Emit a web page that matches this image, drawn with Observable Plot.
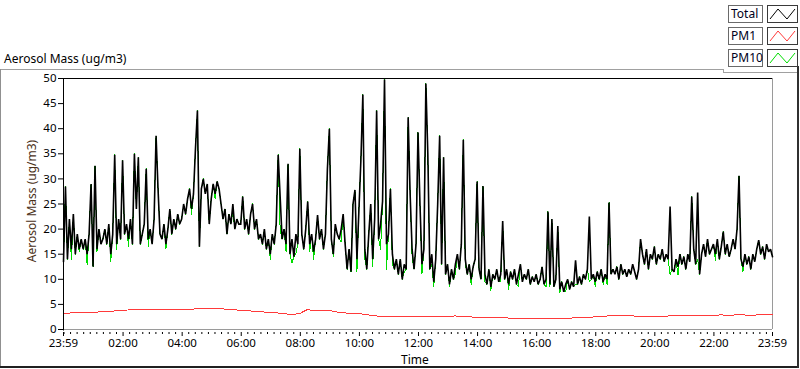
<!DOCTYPE html>
<html><head><meta charset="utf-8">
<script src="https://cdn.jsdelivr.net/npm/d3@7"></script>
<script src="https://cdn.jsdelivr.net/npm/@observablehq/plot@0.6"></script>
<style>
html,body{margin:0;padding:0;background:#fff;}
#wrap{position:relative;width:800px;height:369px;overflow:hidden;font-family:"Noto Sans","Open Sans",sans-serif;color:#000;}
#chart{position:absolute;left:0;top:0;}
.abs{position:absolute;white-space:nowrap;}
.line{position:absolute;}
.lbox{position:absolute;box-sizing:border-box;border:1px solid #6a6a6a;font-size:12px;line-height:16px;padding-left:2px;background:#fff;color:#000020;}
.sbox{position:absolute;box-sizing:border-box;border:1px solid #3a3a3a;background:#fff;}
</style></head><body>
<div id="wrap">
  <div id="chart"></div>
</div>
<script>
// ---------- data ----------
const dayStartUTC = Date.UTC(2000, 0, 1, 23, 59);   // 23:59 first day
const dayEndUTC = Date.UTC(2000, 0, 2, 23, 59);     // 23:59 next day
const totalStepMinutes = 4;
const pm1StepMinutes = 15;

const totalMass = [
13.5,28.5,14,22,16,23,15,19,16,18,
16,18,15,19,29,12.5,32.6,16,20,17,
18,20,17,21,15,19,34.8,17,22,18,
33.7,19,21,18,22,17,35,24,34.3,17,
19,21,32,18,20,17,22,38.6,28,19,
18,21,17,20,24,19,22,20,23,21,
22,25,23,26,28,24,27,36,43.6,16.5,
28,30,27,29,21,26,29,27,29.5,28,
25,22,24,19,23,21,25,20,22,21,
21,26.5,20,22,19,23,25,20,22,18,
19,17,20,16,18,15,19,17,21,34.8,
26.5,18,20,17,33,15,18,14.5,19,17,
36,19,16,20,25.5,17,19,15.5,18,22.8,
18,20,16,19,32,40,18,15,21,19,
18,20,23,17,12,16,11.5,25,27.8,14,
23.8,33.7,46.8,16,12,19,25,14,22,43.6,
18,21,25.5,49.8,17,19,28,15,12,14,
11,14,10,13,12,42.3,27,16,12,17,
39.3,25,13,16,49,34.8,12,15,9.5,14,
25,38.6,13,34.3,11,13,9,12,10,13,
15,12,17,37.8,14,11,13,10,12.5,14,
29.5,12,10,28.6,11,9,12,8.5,11,10,
12,9.5,11,21.6,10,12,9,11.5,10,12,
9,11,13,9.5,11,10,12,9,10.5,9.5,
11,9,10,12.5,9,10,23.5,9,22,8.5,
10,20.6,8,9.5,7.5,9,10,8,9.5,8.5,
13.8,9,10.5,9,11,10,12,22.5,10,11,
9.5,11.5,10,12,9.5,11,10,25.3,11,12,
11,12.5,10,13,11,12,10.5,12,11,13,
11.5,10,12,18,15,13,16,12,15,14,
16.5,13,15,14,16,13.5,15,14,24.5,12,
11.5,14,12.5,15,13,14.5,12,15,13.5,26.5,
16,13,27.3,11,15,17,14.5,18,15,16,
17,15,18,14,16.5,19.5,15,17,14.5,16,
18,16,20,30.6,14,12.5,15,13,14.5,12,
15,13.5,16,17.8,15,16.5,14,17,15.5,16,14.5
];

const pm10Mass = [
13.5,28.5,14,22,14,23,15,19,15.5,18,
16,18,13,19,29,12.5,32.6,15.5,20,17,
18,20,17,21,13.5,19,34.8,16,22,18,
33.7,19,21,16.5,22,17,35,24,34.3,17,
19,21,32,16.5,20,17,22,38.6,28,19,
18,21,16,20,24,19,22,20,23,21,
22,25,23,26,28,23,27,36,43.6,16.5,
28,30,27,29,21,26,29,26,29.5,28,
25,22,24,19,23,21,23.5,20,22,21,
21,26.5,20,22,19,23,25,20,22,18,
19,17,20,16,18,14,19,17,21,34.8,
20,18,20,15.5,33,15,13.3,14.5,15.2,17,
36,19,16,20,25.5,15.5,19,14,18,22.8,
18,20,16,19,32,40,18,14.5,21,19,
18,17.5,23,17,12,16,11.5,25,27.8,11.5,
23.8,33.7,46.8,14,12,19,25,12.5,22,43.6,
18,16,25.5,49.8,12,19,28,13,12,14,
11,14,10,11.5,12,42.3,27,14.5,12,17,
39.3,25,11,16,49,34.8,12,13,8.5,14,
25,38.6,13,34.3,11,13,8.5,12,10,11,
15,12,17,37.8,13,11,13,9,12.5,14,
29.5,12,10,28.6,9.5,9,12,7.8,11,10,
12,9.5,9.5,21.6,10,12,8,11.5,10,12,
9,8.5,13,9.5,11,10,12,9,10.5,9.5,
11,9,10,12.5,9,8.5,23.5,8.5,22,8.5,
10,20.6,7.3,9.5,7.5,7.5,10,8,9.5,8.5,
9,9,10.5,9,11,10,12,9.5,10,11,
8.5,11.5,10,12,9,11,9,25.3,11,12,
11,12.5,10,13,11,12,10.5,12,11,13,
11.5,10,12,18,15,13,16,12,15,14,
16.5,13,15,14,16,13.5,15,14,11,12,
11.5,14,10.8,15,13,14.5,12,15,13.5,26.5,
16,13,14,11,15,17,14.5,18,15,16,
17,13.8,18,14,16.5,19.5,15,17,14.5,16,
18,16,20,30.6,14,11.5,15,13,14.5,12,
15,13.5,16,17.8,15,16.5,14,17,15.5,16,14.5
];

const pm1Mass = [
3.2,3.3,3.3,3.4,3.45,3.5,3.6,3.7,
3.85,3.9,3.9,4.0,4.0,3.95,4.0,4.0,
4.0,4.05,4.1,4.1,4.25,4.2,4.05,3.95,
3.8,3.75,3.6,3.5,3.35,3.3,3.15,2.95,
3.2,3.95,3.75,3.7,3.8,3.5,3.3,3.25,
3.2,2.95,2.75,2.6,2.55,2.6,2.65,2.6,
2.6,2.55,2.5,2.5,2.6,2.7,2.6,2.5,
2.45,2.4,2.35,2.3,2.3,2.25,2.2,2.2,
2.2,2.25,2.2,2.25,2.25,2.3,2.4,2.45,
2.5,2.6,2.75,2.8,2.75,2.7,2.65,2.6,
2.65,2.6,2.7,2.75,2.8,2.8,2.85,2.8,
2.85,2.9,2.85,2.9,2.9,2.85,2.9,2.95,
3.0
];

const xTickLabels = ["23:59","02:00","04:00","06:00","08:00","10:00","12:00","14:00","16:00","18:00","20:00","22:00","23:59"];
const yTickValues = [0,5,10,15,20,25,30,35,40,45,50];
const seriesNames = ["Total","PM1","PM10"];
const seriesColors = ["#000000","#ff3a3a","#00dd00"];
const chartTitle = "Aerosol Mass (ug/m3)";
const yLabel = "Aerosol Mass (ug/m3)";
const xLabel = "Time";

// ---------- build ----------
const minute = 60000;
const toRows = (arr, step) => arr.map((v, i) => ({t: new Date(dayStartUTC + i * step * minute), v}));
const totalRows = toRows(totalMass, totalStepMinutes);
const pm10Rows = toRows(pm10Mass, totalStepMinutes);
const pm1Rows = toRows(pm1Mass, pm1StepMinutes);

const majorTicks = xTickLabels.map((s, i) => {
  if (i === 0) return new Date(dayStartUTC);
  const [h, m] = s.split(":").map(Number);
  return new Date(Date.UTC(2000, 0, 2, h, m));
});
const minorTicks = [];
for (let t = Date.UTC(2000, 0, 2, 0, 0); t < dayEndUTC; t += 800000) {
  if (!majorTicks.some(d => Math.abs(+d - t) < 60000)) minorTicks.push(new Date(t));
}

const FONT = '"Noto Sans","Open Sans",sans-serif';
const chart = Plot.plot({
  width: 800, height: 369,
  marginLeft: 63, marginRight: 28, marginTop: 78, marginBottom: 40,
  style: {fontFamily: FONT, fontSize: "11.5px", color: "#000", background: "transparent"},
  x: {type: "utc", domain: [new Date(dayStartUTC), new Date(dayEndUTC)]},
  y: {domain: [0, 50]},
  marks: [
    Plot.ruleY([50], {stroke: "#000"}),
    Plot.ruleY([0], {stroke: "#9a9a9a"}),
    Plot.ruleX([new Date(dayEndUTC)], {stroke: "#9a9a9a"}),
    Plot.line(pm10Rows, {x: "t", y: "v", stroke: seriesColors[2], strokeWidth: 1, shapeRendering: "crispEdges"}),
    Plot.line(totalRows, {x: "t", y: "v", stroke: seriesColors[0], strokeWidth: 1.6, strokeLinejoin: "miter", strokeMiterlimit: 2}),
    Plot.line(pm1Rows, {x: "t", y: "v", stroke: seriesColors[1], strokeWidth: 1, shapeRendering: "crispEdges"}),
    Plot.ruleX([new Date(dayStartUTC)], {stroke: "#000", y1: -0.3, y2: 50}),
    Plot.axisY({ticks: yTickValues, tickSize: 5, tickPadding: 2, label: null}),
    Plot.axisX({ticks: minorTicks, tickSize: 2, dy: 3, tickFormat: () => "", label: null}),
    Plot.axisX({ticks: majorTicks, tickSize: 4, tickPadding: 2, dy: 3, tickFormat: d3.utcFormat("%H:%M"), label: null})
  ]
});
document.getElementById("chart").appendChild(chart);

// ---------- decorations ----------
const wrap = document.getElementById("wrap");
function addDiv(cls, css, text) {
  const d = document.createElement("div");
  d.className = cls;
  d.style.cssText = css;
  if (text != null) d.textContent = text;
  wrap.appendChild(d);
  return d;
}
// frame
addDiv("line", "left:0;top:69px;width:724px;height:1px;background:#a0a0a0;");
addDiv("line", "left:723px;top:69px;width:1px;height:4px;background:#a0a0a0;");
addDiv("line", "left:723px;top:72px;width:75px;height:1px;background:#a0a0a0;");
addDiv("line", "left:0;top:69px;width:1px;height:298px;background:#909090;");
addDiv("line", "left:0;top:366px;width:799px;height:2px;background:#202020;");
addDiv("line", "left:797px;top:66px;width:2px;height:302px;background:#303030;");
// texts
addDiv("abs", `left:4px;top:51px;font-size:12px;line-height:16px;`, chartTitle);
addDiv("abs", `left:401px;top:352px;font-size:12px;line-height:16px;`, xLabel);
addDiv("abs", `left:32px;top:201px;font-size:12px;line-height:14px;color:#4a3018;transform:translate(-50%,-50%) rotate(-90deg);`, yLabel);
// legend
seriesNames.forEach((name, i) => {
  const top = 5 + i * 22;
  addDiv("lbox", `left:728px;top:${top}px;width:35px;height:18px;`, name);
  const s = addDiv("sbox", `left:767px;top:${top}px;width:31px;height:18px;`);
  s.innerHTML = `<svg width="29" height="16" style="display:block"><polyline points="2,13 10,3 19,13 27,3" fill="none" stroke="${seriesColors[i]}" stroke-width="1"/></svg>`;
});
</script>
</body></html>
